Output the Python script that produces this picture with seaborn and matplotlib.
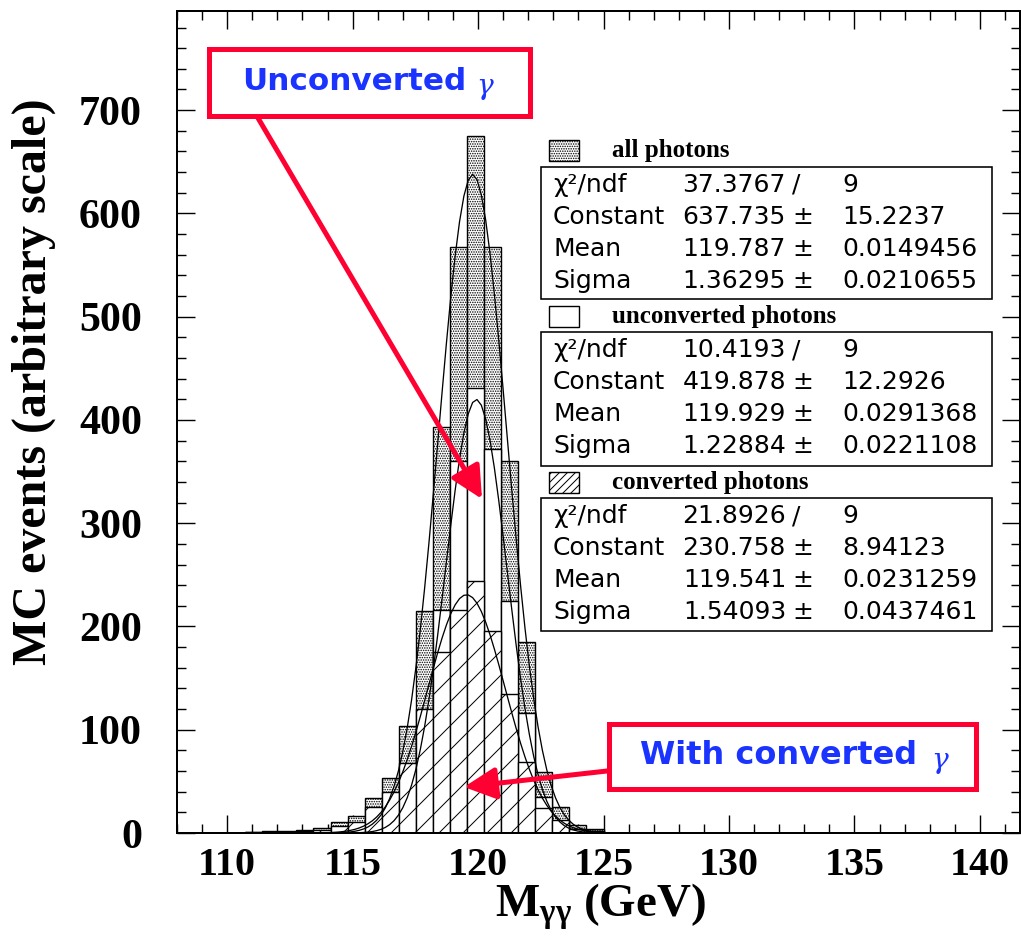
import numpy as np
import pandas as pd
import matplotlib
matplotlib.use("Agg")
import matplotlib.pyplot as plt
import seaborn as sns
from matplotlib.patches import Rectangle, FancyArrowPatch
from matplotlib.ticker import MultipleLocator

# ---------------- data ----------------
bin_lo = 110.72
bin_width = 0.68
n_bins = 21
all_photons = [1, 2, 2, 3, 5, 11, 16, 34, 53, 104, 215, 393, 567, 675, 567, 360, 185, 59, 25, 8, 4]
unconverted = [0, 1, 1, 1, 2, 4, 5, 9, 13, 36, 95, 216, 360, 431, 372, 225, 116, 35, 12, 4, 2]
converted = [1, 1, 1, 2, 3, 7, 11, 25, 40, 68, 120, 175, 216, 244, 196, 135, 69, 24, 13, 4, 2]

series_names = ["all photons", "unconverted photons", "converted photons"]
chi2 = [37.3767, 10.4193, 21.8926]
ndf = [9, 9, 9]
constants = [637.735, 419.878, 230.758]
constants_err = [15.2237, 12.2926, 8.94123]
means = [119.787, 119.929, 119.541]
means_err = [0.0149456, 0.0291368, 0.0231259]
sigmas = [1.36295, 1.22884, 1.54093]
sigmas_err = [0.0210655, 0.0221108, 0.0437461]

x_ticks = [110, 115, 120, 125, 130, 135, 140]
y_ticks = [0, 100, 200, 300, 400, 500, 600, 700]

# ---------------- style ----------------
sns.set_theme(style="ticks")
plt.rcParams["font.family"] = ["Liberation Serif", "DejaVu Serif"]
plt.rcParams["font.weight"] = "bold"
plt.rcParams["mathtext.fontset"] = "custom"
plt.rcParams["mathtext.rm"] = "Liberation Serif:bold"
plt.rcParams["mathtext.it"] = "Liberation Serif:italic:bold"
plt.rcParams["mathtext.bf"] = "Liberation Serif:bold"
plt.rcParams["hatch.linewidth"] = 1.0
plt.rcParams["hatch.color"] = "black"
for key in ["text.color", "axes.labelcolor", "xtick.color", "ytick.color",
            "xtick.labelcolor", "ytick.labelcolor", "axes.edgecolor"]:
    plt.rcParams[key] = "black"

W, H = 1021, 941
fig = plt.figure(figsize=(W / 72, H / 72), dpi=72)
fig.patch.set_facecolor("white")
ax = fig.add_axes([177 / W, 108 / H, 843 / W, 822 / H])
ax.set_facecolor("white")

edges = [bin_lo + bin_width * k for k in range(n_bins + 1)]
centers = [0.5 * (edges[k] + edges[k + 1]) for k in range(n_bins)]
df = pd.DataFrame({"M": centers, "all": all_photons, "unconv": unconverted, "conv": converted})

hatches = [".....", None, "/"]
cols = ["all", "unconv", "conv"]
for col, hatch in zip(cols, hatches):
    n_before = len(ax.patches)
    sns.histplot(data=df, x="M", weights=col, bins=edges, ax=ax, color="white",
                 edgecolor="black", linewidth=1.4, alpha=1.0, fill=True)
    for p in ax.patches[n_before:]:
        p.set_facecolor("white")
        p.set_edgecolor("black")
        if hatch:
            p.set_hatch(hatch)

# gaussian fits
xs = np.linspace(113.0, 125.0, 70)
for c, m, s in zip(constants, means, sigmas):
    sns.lineplot(x=xs, y=c * np.exp(-0.5 * ((xs - m) / s) ** 2), ax=ax,
                 color="black", linewidth=1.3)

ax.set_xlim(108.0, 141.6)
ax.set_ylim(0, 796)
ax.set_xticks(x_ticks)
ax.set_yticks(y_ticks)
ax.xaxis.set_minor_locator(MultipleLocator(1))
ax.yaxis.set_minor_locator(MultipleLocator(20))
ax.tick_params(which="both", direction="in", top=True, right=True, width=1.4,
               color="black", labelcolor="black")
ax.tick_params(which="major", length=18)
ax.tick_params(which="minor", length=9)
ax.tick_params(axis="x", labelsize=40, pad=14)
ax.tick_params(axis="y", labelsize=42, pad=35)
for lbl in ax.get_xticklabels() + ax.get_yticklabels():
    lbl.set_fontweight("bold")
for sp in ax.spines.values():
    sp.set_linewidth(2)
    sp.set_color("black")

ax.set_ylabel("MC events (arbitrary scale)", fontsize=48, fontweight="bold", color="black")
ax.yaxis.set_label_coords((56 - 177) / 843, (833 - 382) / 822)
ax.set_xlabel(r"$\mathrm{M}_{\mathrm{\gamma\gamma}}$ (GeV)", fontsize=47, fontweight="bold",
              color="black")
ax.xaxis.set_label_coords((600 - 177) / 843, (833 - 882) / 822)


# ---------------- stats panels (pixel coords, y from top) ----------------
def fx(x):
    return x / W


def fy(y):
    return 1 - y / H


def rect(x0, y0, x1, y1, **kw):
    r = Rectangle((fx(x0), fy(y1)), fx(x1) - fx(x0), fy(y0) - fy(y1),
                  transform=fig.transFigure, **kw)
    fig.add_artist(r)
    return r


header_y = [151, 317, 483]
box_top = [167, 332, 498]
box_bot = [299, 466, 631]
swatch_hatch = [".....", None, "///"]
stat_font = dict(family="DejaVu Sans", fontsize=25, fontweight="normal", color="black", va="center")
for i in range(3):
    rect(549, header_y[i] - 11, 579, header_y[i] + 10, facecolor="white", edgecolor="black",
         linewidth=1.4, hatch=swatch_hatch[i])
    fig.text(fx(612), fy(header_y[i]), series_names[i], fontsize=25, fontweight="bold",
             family="Liberation Serif", va="center", ha="left", color="black")
    rect(541, box_top[i], 992, box_bot[i], facecolor="white", edgecolor="black", linewidth=1.6)
    rows = [("χ²/ndf", chi2[i], "/", ndf[i]),
            ("Constant", constants[i], "±", constants_err[i]),
            ("Mean", means[i], "±", means_err[i]),
            ("Sigma", sigmas[i], "±", sigmas_err[i])]
    for k, (lab, val, sep, err) in enumerate(rows):
        yy = fy(box_top[i] + 18 + 32 * k)
        fig.text(fx(553), yy, lab, ha="left", **stat_font)
        fig.text(fx(786), yy, str(val), ha="right", **stat_font)
        fig.text(fx(792), yy, sep, ha="left", **stat_font)
        fig.text(fx(842), yy, str(err), ha="left", **stat_font)

# ---------------- annotations ----------------
RED = "#FF0033"
BLUE = "#1A33FF"
rect(209, 49, 530, 116, facecolor="white", edgecolor=RED, linewidth=5)
fig.text(fx(242), fy(82), "Unconverted", color=BLUE, fontsize=31, fontweight="bold",
         family="DejaVu Sans", ha="left", va="center")
fig.text(fx(476), fy(86), "γ", color=BLUE, fontsize=28, fontweight="normal",
         family="DejaVu Serif", ha="left", va="center", style="italic")
rect(609, 724, 976, 789, facecolor="white", edgecolor=RED, linewidth=5)
fig.text(fx(640), fy(756), "With converted", color=BLUE, fontsize=32, fontweight="bold",
         family="DejaVu Sans", ha="left", va="center")
fig.text(fx(931), fy(760), "γ", color=BLUE, fontsize=28, fontweight="normal",
         family="DejaVu Serif", ha="left", va="center", style="italic")

for (x0, y0), (x1, y1) in [((258, 118), (482, 499)), ((607, 771), (464, 787))]:
    arr = FancyArrowPatch((fx(x0), fy(y0)), (fx(x1), fy(y1)), transform=fig.transFigure,
                          arrowstyle="-|>,head_length=0.9,head_width=0.45", mutation_scale=30,
                          linewidth=5, color=RED, shrinkA=0, shrinkB=0)
    fig.add_artist(arr)

fig.savefig("out.png", dpi=72, facecolor="white")
